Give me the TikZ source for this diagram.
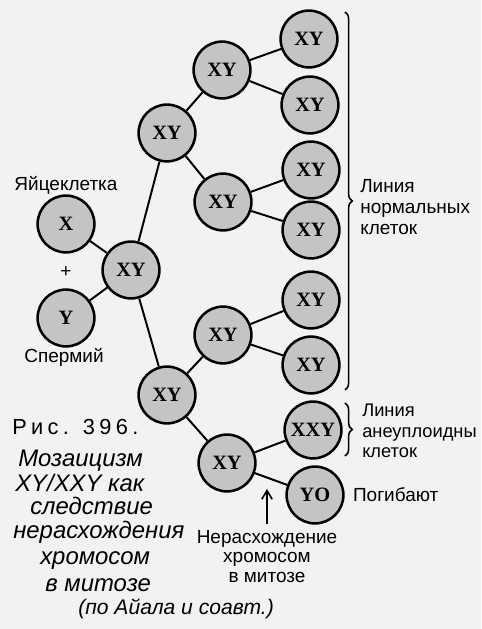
\documentclass[tikz,border=0pt]{standalone}
\usepackage{fontspec}
\setmainfont{Liberation Sans}
\newfontfamily\cellfont{Liberation Serif}
\usetikzlibrary{arrows.meta,decorations.pathreplacing}

\definecolor{paper}{gray}{0.95}
\definecolor{cellgray}{gray}{0.77}

\begin{document}
\begin{tikzpicture}[
  x=1cm,
  y=1cm,
  >=Latex,
  line/.style={draw=black,line width=1.4pt},
  arrow/.style={line,line width=1.1pt,-{Straight Barb[length=2.2mm,width=2.6mm]}},
  cell/.style={circle,line,line width=1.8pt,fill=cellgray,minimum size=1.42cm,inner sep=0pt,
    font=\cellfont\bfseries\fontsize{14.5}{16}\selectfont},
  label/.style={font=\fontsize{13.5}{16}\selectfont},
  sidelabel/.style={label,align=left,anchor=west,inner sep=0pt},
  capline/.style={anchor=base west,inner sep=0pt,font=\itshape\fontsize{17}{20}\selectfont},
  brace/.style={line,line width=1.1pt,decorate,decoration={brace,amplitude=0.18cm}}
]

% Paper and frame
\fill[paper] (0,0) rectangle (12.025,15.725);
\useasboundingbox (0,0) rectangle (12.025,15.725);

% Gametes and zygote
\node[cell] (egg) at (1.65,10.125) {X};
\node[cell] (sperm) at (1.65,7.775) {Y};
\node[cell] (zyg) at (3.275,8.975) {XY};
\node[label,anchor=base] (egglab) at (1.65,10.95) {Яйцеклетка};
\node[label,anchor=base] (spermlab) at (1.6,6.65) {Спермий};
\node[label] (plus) at (1.65,8.925) {+};

% First divisions
\node[cell] (a) at (4.175,12.4) {XY};
\node[cell] (b) at (4.175,5.85) {XY};
\node[cell] (aa) at (5.55,13.975) {XY};
\node[cell] (ab) at (5.575,10.675) {XY};
\node[cell] (ba) at (5.575,7.35) {XY};
\node[cell] (bb) at (5.675,4.15) {XY};

% Normal line
\node[cell] (aaa) at (7.725,14.75) {XY};
\node[cell] (aab) at (7.75,13.1) {XY};
\node[cell] (aba) at (7.775,11.475) {XY};
\node[cell] (abb) at (7.775,9.975) {XY};
\node[cell] (baa) at (7.775,8.225) {XY};
\node[cell] (bab) at (7.775,6.6) {XY};

% Non-disjunction products
\node[cell] (xxy) at (7.825,4.975) {XXY};
\node[cell] (yo) at (7.875,3.35) {YO};

% Connectors
\draw[line] (egg) -- (zyg);
\draw[line] (sperm) -- (zyg);
\draw[line] (zyg) -- (a);
\draw[line] (zyg) -- (b);
\draw[line] (a) -- (aa);
\draw[line] (a) -- (ab);
\draw[line] (b) -- (ba);
\draw[line] (b) -- (bb);
\draw[line] (aa) -- (aaa);
\draw[line] (aa) -- (aab);
\draw[line] (ab) -- (aba);
\draw[line] (ab) -- (abb);
\draw[line] (ba) -- (baa);
\draw[line] (ba) -- (bab);
\draw[line] (bb) -- (xxy);
\draw[line] (bb) -- (yo);

% Braces and side labels
\draw[brace] (8.625,15.425) -- (8.625,5.975);
\node[sidelabel] (normlab) at (9.0,10.55) {Линия\\[-1pt]нормальных\\[-1pt]клеток};
\draw[brace] (8.625,5.65) -- (8.625,4.325);
\node[sidelabel,font=\fontsize{13}{15.5}\selectfont] (aneulab) at (9.05,4.95) {Линия\\[-1pt]анеуплоидны\\[-1pt]клеток};
\node[sidelabel] (dielab) at (8.82,3.35) {Погибают};

% Non-disjunction arrow
\node[label,align=center,anchor=north] (nondisj) at (6.675,2.6)
  {Нерасхождение\\[-2pt]хромосом\\[-2pt]в митозе};
\coordinate (tip) at (6.675,3.5);
\draw[arrow] ([yshift=1pt]nondisj.north) -- (tip);

% Caption
\node[anchor=base west,inner sep=0pt,font=\addfontfeature{LetterSpace=20}\fontsize{15.5}{18}\selectfont] (cap0) at (0.3,4.85) {Рис. 396.};
\node[capline] (cap1) at (0.45,4.05) {Мозаицизм};
\node[capline] (cap2) at (0.375,3.425) {XY/XXY как};
\node[capline] (cap3) at (0.75,2.85) {следствие};
\node[capline] (cap4) at (0.325,2.25) {нерасхождения};
\node[capline] (cap5) at (1.0,1.6) {хромосом};
\node[capline] (cap6) at (1.125,0.925) {в митозе};
\node[capline,font=\itshape\fontsize{15}{18}\selectfont] (cap7) at (1.95,0.35) {(по Айала и соавт.)};

\end{tikzpicture}
\end{document}
